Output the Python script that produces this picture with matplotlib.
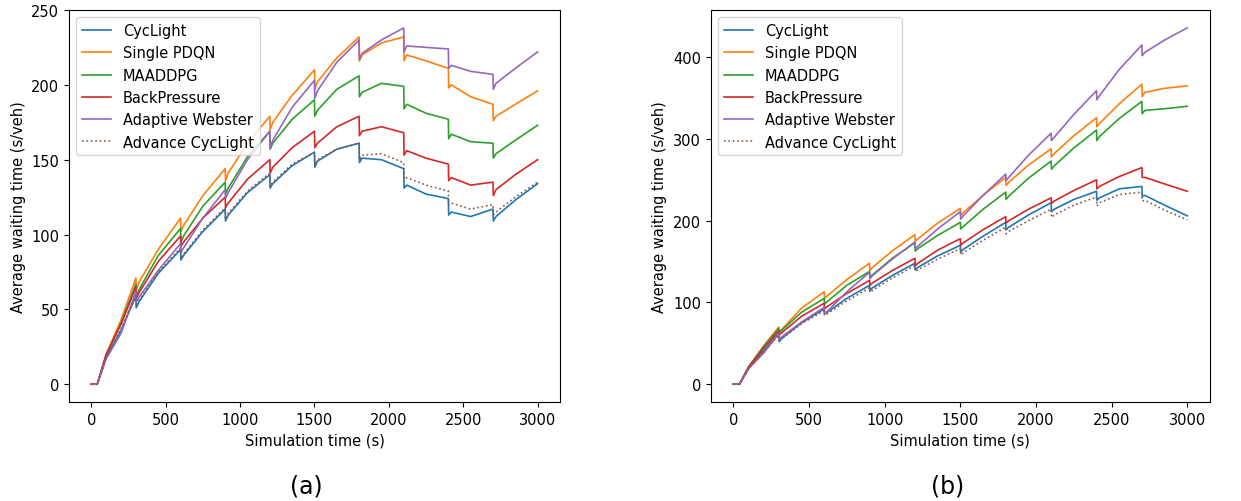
import numpy as np
import matplotlib
matplotlib.use("Agg")
import matplotlib.pyplot as plt

# time stamps (s) - signal plans switch every 300 s, hence the doubled points
t = [0, 40, 100, 200, 300, 302, 320, 450, 600, 602, 620, 750, 900, 902, 920,
     1050, 1200, 1202, 1220, 1350, 1500, 1502, 1520, 1650, 1800, 1802, 1820,
     1950, 2100, 2102, 2120, 2250, 2400, 2402, 2420, 2550, 2700, 2702, 2720,
     2850, 3000]

labels = ["CycLight", "Single PDQN", "MAADDPG", "BackPressure",
          "Adaptive Webster", "Advance CycLight"]

# (a)
a_cyclight = [0, 0, 18, 36, 59, 51, 55, 74, 90, 83, 86, 102, 117, 109, 113,
              128, 140, 131, 134, 146, 155, 145, 149, 157, 161, 148, 151,
              150, 144, 131, 133, 127, 124, 113, 115, 112, 117, 109, 112,
              123, 134]
a_pdqn = [0, 0, 20, 43, 71, 63, 68, 90, 111, 102, 106, 126, 144, 136, 141,
          161, 179, 170, 175, 193, 210, 197, 202, 218, 232, 216, 220,
          228, 232, 216, 220, 216, 211, 198, 200, 192, 187, 176, 179,
          187, 196]
a_maaddpg = [0, 0, 19, 41, 67, 59, 63, 86, 104, 95, 99, 119, 135, 127, 131,
             152, 169, 157, 161, 177, 190, 179, 183, 197, 206, 192, 195,
             201, 199, 184, 187, 181, 177, 164, 167, 162, 161, 151, 154,
             163, 173]
a_backpressure = [0, 0, 20, 40, 65, 57, 61, 82, 99, 92, 95, 111, 125, 118, 121,
                  137, 150, 141, 145, 158, 169, 158, 161, 172, 179, 166, 169,
                  172, 168, 153, 156, 151, 147, 136, 138, 133, 135, 126, 130,
                  140, 150]
a_webster = [0, 0, 17, 34, 62, 55, 58, 76, 94, 88, 91, 111, 130, 124, 128,
             150, 169, 158, 163, 185, 203, 191, 196, 215, 230, 217, 221,
             230, 238, 222, 226, 225, 224, 211, 213, 209, 207, 197, 201,
             211, 222]
a_advance = [0, 0, 18, 37, 59, 52, 56, 75, 91, 84, 87, 103, 118, 110, 114,
             129, 141, 132, 135, 147, 155, 146, 150, 157, 161, 150, 153,
             154, 148, 137, 138, 133, 129, 120, 121, 117, 120, 113, 115,
             125, 135]

# (b)
b_cyclight = [0, 0, 19, 41, 62, 52, 56, 75, 92, 86, 88, 105, 121, 115, 118,
              133, 148, 140, 143, 157, 170, 162, 165, 181, 198, 189, 192,
              207, 222, 211, 214, 226, 236, 225, 228, 239, 242, 230, 231,
              219, 206]
b_pdqn = [0, 0, 21, 47, 70, 64, 67, 93, 113, 105, 108, 128, 148, 139, 143,
          163, 183, 175, 178, 197, 215, 206, 210, 231, 253, 243, 247,
          268, 288, 278, 282, 304, 326, 315, 319, 343, 367, 352, 357,
          362, 365]
b_maaddpg = [0, 0, 21, 46, 68, 63, 66, 88, 105, 98, 101, 121, 138, 131, 134,
             154, 173, 163, 166, 182, 198, 190, 193, 214, 235, 226, 230,
             252, 273, 263, 267, 289, 311, 298, 303, 325, 346, 331, 335,
             337, 340]
b_backpressure = [0, 0, 21, 44, 65, 60, 63, 83, 99, 92, 95, 111, 127, 121, 124,
                  139, 154, 145, 148, 164, 178, 170, 173, 189, 205, 197, 200,
                  214, 228, 221, 224, 237, 250, 239, 242, 254, 265, 253, 253,
                  245, 236]
b_webster = [0, 0, 19, 38, 62, 55, 58, 76, 94, 86, 89, 113, 137, 129, 133,
             153, 174, 166, 169, 190, 211, 202, 206, 231, 257, 249, 253,
             280, 307, 298, 302, 330, 359, 348, 353, 385, 415, 402, 406,
             421, 436]
b_advance = [0, 0, 19, 40, 60, 53, 56, 74, 90, 84, 86, 102, 118, 112, 115,
             130, 145, 138, 140, 153, 166, 158, 161, 176, 192, 184, 187,
             200, 214, 204, 207, 219, 229, 218, 222, 232, 235, 224, 225,
             213, 201]

fig = plt.figure(figsize=(12.41, 5.02), dpi=100)
ax1 = fig.add_axes([0.0556, 0.1972, 0.3956, 0.7809])
ax2 = fig.add_axes([0.5727, 0.1972, 0.4023, 0.7809])

colors = ["tab:blue", "tab:orange", "tab:green", "tab:red", "tab:purple", "tab:brown"]

def draw(ax, series):
    for i, (s, lab) in enumerate(zip(series, labels)):
        ls = ":" if i == 5 else "-"
        ax.plot(t, s, color=colors[i], linestyle=ls, linewidth=1.2, label=lab)
    ax.set_xlabel("Simulation time (s)", fontsize=10.5)
    ax.set_ylabel("Average waiting time (s/veh)", fontsize=10.5)
    ax.set_xticks([0, 500, 1000, 1500, 2000, 2500, 3000])
    ax.tick_params(labelsize=10.5)
    ax.legend(loc="upper left", fontsize=10.5)

draw(ax1, [a_cyclight, a_pdqn, a_maaddpg, a_backpressure, a_webster, a_advance])
draw(ax2, [b_cyclight, b_pdqn, b_maaddpg, b_backpressure, b_webster, b_advance])
ax1.set_yticks([0, 50, 100, 150, 200, 250])

fig.text(0.247, 0.03, "(a)", fontsize=17, ha="center", va="center")
fig.text(0.764, 0.03, "(b)", fontsize=17, ha="center", va="center")

fig.savefig("out.png", dpi=100)
